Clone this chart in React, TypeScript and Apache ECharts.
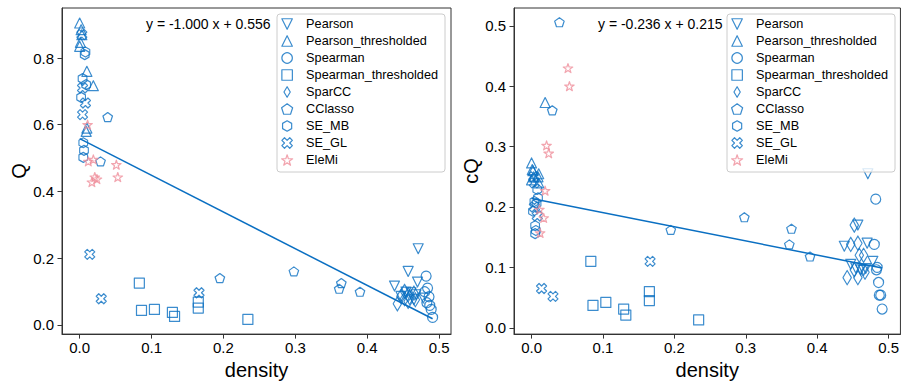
import React, { useEffect, useRef } from "react";
import * as echarts from "echarts";

const FONT = "'Liberation Sans', Arial, sans-serif";
const BLUE = "#0a6fc2";
const PINK = "#ef8f9b";

const methods = [
  "Pearson",
  "Pearson_thresholded",
  "Spearman",
  "Spearman_thresholded",
  "SparCC",
  "CClasso",
  "SE_MB",
  "SE_GL",
  "EleMi",
];

// density / Q / cQ per method
const pearsonDensity = [0.438, 0.447, 0.454, 0.457, 0.461, 0.465, 0.468, 0.47, 0.471, 0.478];
const pearsonQ = [0.116, 0.085, 0.098, 0.16, 0.096, 0.075, 0.09, 0.128, 0.228, 0.08];
const pearsonCQ = [0.135, 0.105, 0.099, 0.17, 0.096, 0.095, 0.098, 0.14, 0.255, 0.11];

const pearsonThrDensity = [0.0, 0.002, 0.003, 0.001, 0.0, 0.01, 0.019, 0.01, 0.009];
const pearsonThrQ = [0.905, 0.885, 0.87, 0.847, 0.835, 0.76, 0.717, 0.59, 0.58];
const pearsonThrCQ = [0.273, 0.26, 0.25, 0.262, 0.245, 0.255, 0.373, 0.24, 0.25];

const spearmanDensity = [0.48, 0.482, 0.483, 0.484, 0.486, 0.487, 0.489, 0.491];
const spearmanQ = [0.099, 0.146, 0.066, 0.11, 0.084, 0.058, 0.046, 0.022];
const spearmanCQ = [0.138, 0.213, 0.096, 0.1, 0.075, 0.054, 0.054, 0.031];

const spearmanThrDensity = [0.083, 0.086, 0.104, 0.129, 0.132, 0.165, 0.165, 0.234];
const spearmanThrQ = [0.125, 0.043, 0.046, 0.037, 0.025, 0.068, 0.05, 0.016];
const spearmanThrCQ = [0.11, 0.037, 0.042, 0.031, 0.021, 0.06, 0.045, 0.013];

const sparccDensity = [0.442, 0.447, 0.452, 0.452, 0.457, 0.457, 0.459, 0.465, 0.467];
const sparccQ = [0.063, 0.085, 0.1, 0.078, 0.07, 0.09, 0.082, 0.095, 0.075];
const sparccCQ = [0.083, 0.138, 0.17, 0.096, 0.14, 0.083, 0.12, 0.12, 0.092];

const cclassoDensity = [0.029, 0.039, 0.195, 0.298, 0.361, 0.364, 0.39];
const cclassoQ = [0.49, 0.623, 0.14, 0.16, 0.108, 0.125, 0.099];
const cclassoCQ = [0.36, 0.506, 0.162, 0.183, 0.138, 0.164, 0.118];

const seMbDensity = [0.008, 0.004, 0.002, 0.005, 0.006, 0.005, 0.007, 0.009];
const seMbQ = [0.818, 0.738, 0.682, 0.546, 0.523, 0.502, 0.81, 0.72];
const seMbCQ = [0.229, 0.209, 0.193, 0.169, 0.161, 0.156, 0.206, 0.215];

const seGlDensity = [0.003, 0.004, 0.008, 0.004, 0.014, 0.03, 0.166];
const seGlQ = [0.87, 0.71, 0.665, 0.63, 0.211, 0.078, 0.096];
const seGlCQ = [0.25, 0.24, 0.185, 0.2, 0.065, 0.052, 0.11];

const elemiDensity = [0.011, 0.012, 0.017, 0.019, 0.021, 0.024, 0.051, 0.053];
const elemiQ = [0.6, 0.49, 0.428, 0.496, 0.443, 0.437, 0.48, 0.443];
const elemiCQ = [0.196, 0.157, 0.182, 0.227, 0.302, 0.289, 0.43, 0.4];

// fitted lines (endpoints)
const fitDensity = [0.0, 0.491];
const fitQ = [0.558, 0.018];
const fitCQ = [0.214, 0.099];

const eqLeft = "y = -1.000 x + 0.556";
const eqRight = "y = -0.236 x + 0.215";

const xTicks = [0, 0.1, 0.2, 0.3, 0.4, 0.5];
const qTicks = [0, 0.2, 0.4, 0.6, 0.8];
const cqTicks = [0, 0.1, 0.2, 0.3, 0.4, 0.5];

const S = 10;
const symbols: Record<string, { symbol: string; size: number | number[] }> = {
  Pearson: { symbol: "path://M-1,-1L1,-1L0,1Z", size: [S, S] },
  Pearson_thresholded: { symbol: "path://M0,-1L1,1L-1,1Z", size: [S, S] },
  Spearman: { symbol: "circle", size: S },
  Spearman_thresholded: { symbol: "path://M-1,-1L1,-1L1,1L-1,1Z", size: [S, S] },
  SparCC: { symbol: "path://M0,-1L0.6,0L0,1L-0.6,0Z", size: [0.6 * 1.414 * S, 1.414 * S] },
  CClasso: {
    symbol: "path://M0,-1L-0.951,-0.309L-0.588,0.809L0.588,0.809L0.951,-0.309Z",
    size: [0.951 * S, 0.9045 * S],
  },
  SE_MB: {
    symbol: "path://M0,-1L-0.866,-0.5L-0.866,0.5L0,1L0.866,0.5L0.866,-0.5Z",
    size: [0.866 * S, S],
  },
  SE_GL: {
    symbol:
      "path://M-0.25,-0.5L0,-0.25L0.25,-0.5L0.5,-0.25L0.25,0L0.5,0.25L0.25,0.5L0,0.25L-0.25,0.5L-0.5,0.25L-0.25,0L-0.5,-0.25Z",
    size: [S, S],
  },
  EleMi: {
    symbol:
      "path://M0,-1L-0.2245,-0.309L-0.9511,-0.309L-0.3633,0.118L-0.5878,0.809L0,0.382L0.5878,0.809L0.3633,0.118L0.9511,-0.309L0.2245,-0.309Z",
    size: [0.951 * S, 0.9045 * S],
  },
};

const methodData: Record<string, number[][]> = {
  Pearson: [pearsonDensity, pearsonQ, pearsonCQ],
  Pearson_thresholded: [pearsonThrDensity, pearsonThrQ, pearsonThrCQ],
  Spearman: [spearmanDensity, spearmanQ, spearmanCQ],
  Spearman_thresholded: [spearmanThrDensity, spearmanThrQ, spearmanThrCQ],
  SparCC: [sparccDensity, sparccQ, sparccCQ],
  CClasso: [cclassoDensity, cclassoQ, cclassoCQ],
  SE_MB: [seMbDensity, seMbQ, seMbCQ],
  SE_GL: [seGlDensity, seGlQ, seGlCQ],
  EleMi: [elemiDensity, elemiQ, elemiCQ],
};

function buildOption() {
  const series: any[] = [];
  [0, 1].forEach((g) => {
    series.push({
      type: "line",
      name: "fit" + g,
      xAxisIndex: g,
      yAxisIndex: g,
      data: fitDensity.map((d, i) => [d, g === 0 ? fitQ[i] : fitCQ[i]]),
      showSymbol: false,
      symbol: "none",
      lineStyle: { color: BLUE, width: 1.5 },
      z: 3,
      silent: true,
    });
    methods.forEach((m) => {
      const [dens, q, cq] = methodData[m];
      const ys = g === 0 ? q : cq;
      const color = m === "EleMi" ? PINK : BLUE;
      series.push({
        type: "scatter",
        name: m,
        xAxisIndex: g,
        yAxisIndex: g,
        data: dens.map((d, i) => [d, ys[i]]),
        symbol: symbols[m].symbol,
        symbolSize: symbols[m].size,
        itemStyle: {
          color: "rgba(0,0,0,0)",
          borderColor: color,
          borderWidth: 1.2,
          borderJoin: "round",
        },
        emphasis: { disabled: true },
        z: 2,
      });
    });
  });

  const axisCommon = {
    type: "value",
    axisLine: { show: true, onZero: false, lineStyle: { color: "#333", width: 1 } },
    axisTick: { show: true, length: 4.5, lineStyle: { color: "#333", width: 1 } },
    splitLine: { show: false },
    nameLocation: "middle",
    nameTextStyle: { fontSize: 20, fontFamily: FONT, color: "#000" },
  };
  const xAxis = [0, 1].map((g) => ({
    ...axisCommon,
    gridIndex: g,
    min: -0.0246,
    max: 0.5166,
    name: "density",
    nameGap: 22,
    axisTick: { ...axisCommon.axisTick, customValues: xTicks },
    axisLabel: {
      customValues: xTicks,
      formatter: (v: number) => v.toFixed(1),
      fontSize: 15,
      fontFamily: FONT,
      color: "#000",
      margin: 6,
    },
  }));
  const yAxis = [
    {
      ...axisCommon,
      gridIndex: 0,
      min: -0.028,
      max: 0.95,
      name: "Q",
      nameGap: 30,
      axisTick: { ...axisCommon.axisTick, customValues: qTicks },
      axisLabel: {
        customValues: qTicks,
        formatter: (v: number) => v.toFixed(1),
        fontSize: 15,
        fontFamily: FONT,
        color: "#000",
        margin: 8,
      },
    },
    {
      ...axisCommon,
      gridIndex: 1,
      min: -0.0105,
      max: 0.5295,
      name: "cQ",
      nameGap: 32,
      axisTick: { ...axisCommon.axisTick, customValues: cqTicks },
      axisLabel: {
        customValues: cqTicks,
        formatter: (v: number) => v.toFixed(1),
        fontSize: 15,
        fontFamily: FONT,
        color: "#000",
        margin: 8,
      },
    },
  ];

  const legendCommon = {
    orient: "vertical",
    top: 17,
    itemWidth: 28,
    itemHeight: 10.5,
    itemGap: 3,
    padding: 0,
    selectedMode: false,
    data: methods,
    textStyle: { fontSize: 12.7, lineHeight: 14, fontFamily: FONT, color: "#000" },
    itemStyle: { borderWidth: 1.2 },
    z: 6,
  };

  return {
    animation: false,
    textStyle: { fontFamily: FONT },
    grid: [
      { left: 62, top: 8, width: 389, height: 332, show: true, borderColor: "#333", borderWidth: 1, backgroundColor: "transparent" },
      { left: 514, top: 8, width: 389, height: 332, show: true, borderColor: "#333", borderWidth: 1, backgroundColor: "transparent" },
    ],
    xAxis,
    yAxis,
    legend: [
      { ...legendCommon, left: 281 },
      { ...legendCommon, left: 731 },
    ],
    graphic: [
      {
        type: "rect",
        z: 5,
        shape: { x: 277, y: 14, width: 168, height: 158, r: 3 },
        style: { fill: "rgba(255,255,255,0.8)", stroke: "#cccccc", lineWidth: 1 },
      },
      {
        type: "rect",
        z: 5,
        shape: { x: 727, y: 14, width: 168, height: 158, r: 3 },
        style: { fill: "rgba(255,255,255,0.8)", stroke: "#cccccc", lineWidth: 1 },
      },
      {
        type: "text",
        z: 7,
        x: 146,
        y: 24,
        style: { text: eqLeft, fontSize: 14, fontFamily: FONT, fill: "#000", verticalAlign: "middle", align: "left" },
      },
      {
        type: "text",
        z: 7,
        x: 598,
        y: 24,
        style: { text: eqRight, fontSize: 14, fontFamily: FONT, fill: "#000", verticalAlign: "middle", align: "left" },
      },
    ],
    series,
  };
}

export default function App() {
  const ref = useRef<HTMLDivElement>(null);
  useEffect(() => {
    document.body.style.margin = "0";
    if (!ref.current) return;
    const chart = echarts.init(ref.current, undefined, { renderer: "svg" });
    chart.setOption(buildOption() as any);
    return () => chart.dispose();
  }, []);
  return <div ref={ref} style={{ width: 902, height: 385, background: "#fff" }} />;
}
